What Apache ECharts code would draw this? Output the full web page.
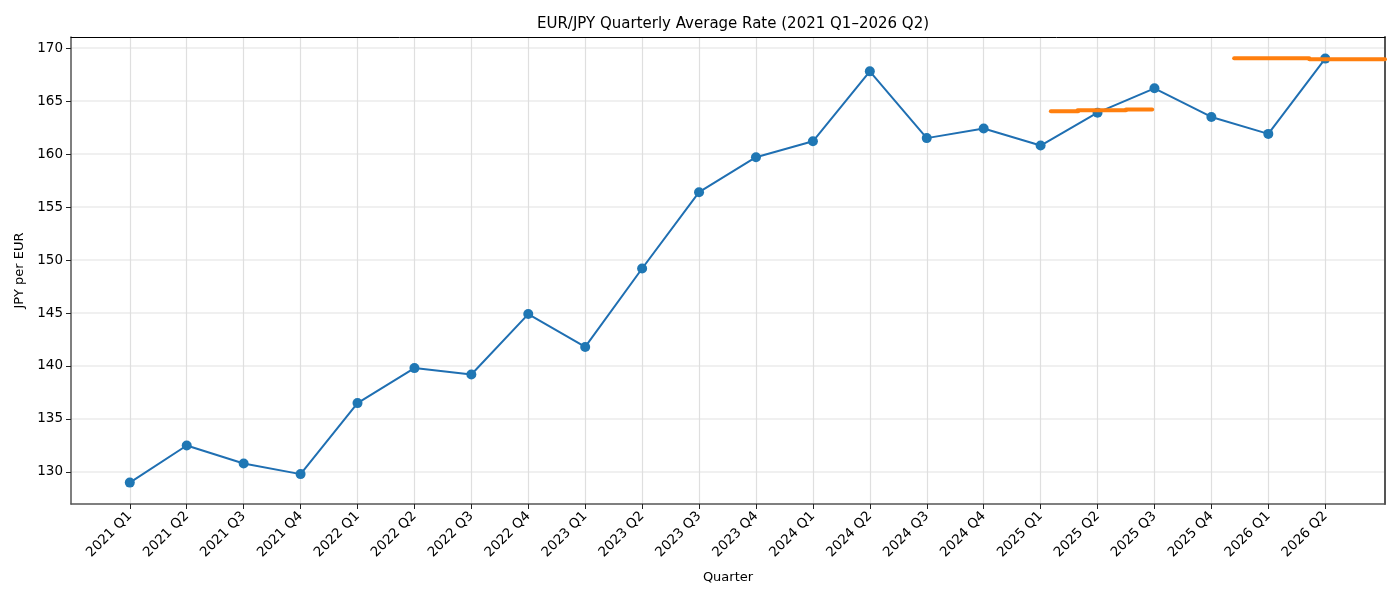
<!DOCTYPE html>
<html>
<head>
<meta charset="utf-8">
<script src="https://cdn.jsdelivr.net/npm/echarts@6/dist/echarts.min.js"></script>
<style>
  html, body { margin: 0; padding: 0; background: #fff; }
  #chart { width: 1400px; height: 600px; }
</style>
</head>
<body>
<div id="chart"></div>
<script>
// quarter labels
const quarters = [
  '2021 Q1', '2021 Q2', '2021 Q3', '2021 Q4',
  '2022 Q1', '2022 Q2', '2022 Q3', '2022 Q4',
  '2023 Q1', '2023 Q2', '2023 Q3', '2023 Q4',
  '2024 Q1', '2024 Q2', '2024 Q3', '2024 Q4',
  '2025 Q1', '2025 Q2', '2025 Q3', '2025 Q4',
  '2026 Q1', '2026 Q2'
];
// quarterly average rate
const avgRate = [
  129.0, 132.5, 130.8, 129.8,
  136.5, 139.8, 139.2, 144.9,
  141.8, 149.2, 156.4, 159.7,
  161.2, 167.8, 161.5, 162.4,
  160.8, 163.9, 166.2, 163.5,
  161.9, 169.0
];
// orange horizontal segments (x in quarter index units)
const segStart = [16.18, 16.65, 17.5, 19.4, 20.72];
const segEnd = [16.66, 17.5, 17.96, 20.72, 22.05];
const segRate = [164.03, 164.12, 164.2, 169.03, 168.93];
const yTicks = [130, 135, 140, 145, 150, 155, 160, 165, 170];

const xIdx = quarters.map((q, i) => i);
const font = 'DejaVu Sans';

let chart = echarts.init(document.getElementById('chart'), null, { renderer: 'canvas' });

let series = [{
  name: 'avg',
  type: 'line',
  data: avgRate.map((v, i) => [i, v]),
  symbol: 'circle',
  symbolSize: 10,
  lineStyle: { color: '#1f6fb2', width: 2 },
  itemStyle: { color: '#1f77b4' },
  z: 3
}];
segRate.forEach((r, i) => {
  series.push({
    type: 'line',
    data: [[segStart[i], r], [segEnd[i], r]],
    symbol: 'none',
    lineStyle: { color: '#ff7f0e', width: 4, cap: 'round' },
    z: 4
  });
});

let option = {
  animation: false,
  backgroundColor: '#fff',
  title: {
    text: 'EUR/JPY Quarterly Average Rate (2021 Q1\u20132026 Q2)',
    left: 728,
    textAlign: 'center',
    top: 12,
    textStyle: { fontFamily: font, fontSize: 15, fontWeight: 'normal', color: '#000' }
  },
  grid: { left: 71, right: 15, top: 37, bottom: 96 },
  xAxis: [{
    type: 'value',
    min: -1.033,
    max: 22.05,
    name: 'Quarter',
    nameLocation: 'middle',
    nameGap: 67,
    nameTextStyle: { fontFamily: font, fontSize: 13, color: '#000' },
    axisLine: { onZero: false, lineStyle: { color: '#555', width: 1.5 } },
    axisTick: { customValues: xIdx, length: 5, lineStyle: { color: '#222' } },
    axisLabel: {
      customValues: xIdx,
      formatter: v => quarters[Math.round(v)],
      rotate: 45,
      fontFamily: font, fontSize: 13.5, color: '#000', margin: 10
    },
    splitLine: { show: true, lineStyle: { color: '#dfdfdf', width: 1.2 } }
  }, {
    type: 'value',
    position: 'top',
    min: -1.033,
    max: 22.05,
    axisLine: { show: true, onZero: false, lineStyle: { color: '#000', width: 1 } },
    axisTick: { show: false },
    axisLabel: { show: false },
    splitLine: { show: false }
  }],
  yAxis: [{
    type: 'value',
    min: 126.98,
    max: 171.04,
    name: 'JPY per EUR',
    nameLocation: 'middle',
    nameGap: 45,
    nameTextStyle: { fontFamily: font, fontSize: 13, color: '#000' },
    axisLine: { show: true, onZero: false, lineStyle: { color: '#555', width: 1.5 } },
    axisTick: { show: true, customValues: yTicks, length: 5, lineStyle: { color: '#222' } },
    axisLabel: { customValues: yTicks, fontFamily: font, fontSize: 13.5, color: '#000', margin: 8 },
    splitLine: { show: true, lineStyle: { color: '#ebebeb', width: 1.6 } }
  }, {
    type: 'value',
    position: 'right',
    min: 126.98,
    max: 171.04,
    axisLine: { show: true, onZero: false, lineStyle: { color: '#555', width: 2 } },
    axisTick: { show: false },
    axisLabel: { show: false },
    splitLine: { show: false }
  }],
  series: series
};

chart.setOption(option);
</script>
</body>
</html>
